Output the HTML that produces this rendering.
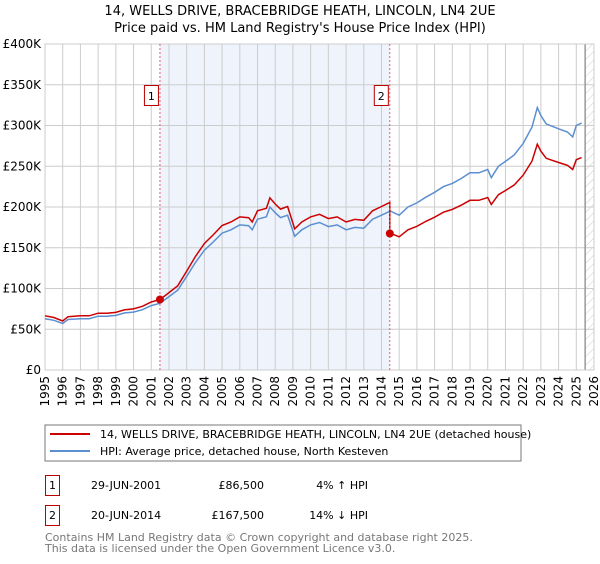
<!DOCTYPE html>
<html><head><meta charset="utf-8"><style>
body{margin:0;background:#fff;font-family:"DejaVu Sans","Liberation Sans",sans-serif;}
svg text{font-family:"DejaVu Sans","Liberation Sans",sans-serif;}
</style></head><body>
<svg id="c" width="600" height="560" xmlns="http://www.w3.org/2000/svg">
<defs><pattern id="hatch" width="6" height="6" patternUnits="userSpaceOnUse" patternTransform="rotate(45)"><line x1="0" y1="0" x2="0" y2="6" stroke="#ccc" stroke-width="1"/></pattern></defs>
<text x="300" y="15" text-anchor="middle" font-size="13">14, WELLS DRIVE, BRACEBRIDGE HEATH, LINCOLN, LN4 2UE</text>
<text x="300" y="32" text-anchor="middle" font-size="13">Price paid vs. HM Land Registry's House Price Index (HPI)</text>
<g id="plot"></g>
<rect x="45" y="425" width="476" height="36" fill="#fff" stroke="#777"/>
<line x1="50" y1="434" x2="90" y2="434" stroke="#cc0000" stroke-width="2"/>
<text x="100" y="438" font-size="11">14, WELLS DRIVE, BRACEBRIDGE HEATH, LINCOLN, LN4 2UE (detached house)</text>
<line x1="50" y1="451" x2="90" y2="451" stroke="#5b8fd0" stroke-width="2"/>
<text x="100" y="455" font-size="11">HPI: Average price, detached house, North Kesteven</text>
<g>
<rect x="45.5" y="475.5" width="14" height="20" fill="#fff" stroke="#b00"/><text x="52.5" y="489" font-size="11" text-anchor="middle">1</text>
<text x="91" y="489" font-size="11">29-JUN-2001</text><text x="264" y="489" font-size="11" text-anchor="end">£86,500</text><text x="368" y="489" font-size="11" text-anchor="end">4% ↑ HPI</text></g>
<g>
<rect x="45.5" y="505.5" width="14" height="20" fill="#fff" stroke="#b00"/><text x="52.5" y="519" font-size="11" text-anchor="middle">2</text>
<text x="91" y="519" font-size="11">20-JUN-2014</text><text x="264" y="519" font-size="11" text-anchor="end">£167,500</text><text x="368" y="519" font-size="11" text-anchor="end">14% ↓ HPI</text></g>
<text x="45" y="541" font-size="11" fill="#777">Contains HM Land Registry data © Crown copyright and database right 2025.</text>
<text x="45" y="552" font-size="11" fill="#777">This data is licensed under the Open Government Licence v3.0.</text>
</svg>
<script>
const hpiYears=[1995,1995.5,1996,1996.3,1997,1997.5,1998,1998.5,1999,1999.5,2000,2000.5,2001,2001.5,2002,2002.5,2003,2003.5,2004,2004.5,2005,2005.5,2006,2006.5,2006.7,2007,2007.5,2007.7,2008,2008.3,2008.7,2009.1,2009.5,2010,2010.5,2011,2011.5,2012,2012.5,2013,2013.5,2014,2014.5,2015,2015.5,2016,2016.5,2017,2017.5,2018,2018.5,2019,2019.5,2020,2020.2,2020.6,2021,2021.5,2022,2022.5,2022.8,2023,2023.3,2024,2024.5,2024.8,2025,2025.3];
const hpiValues=[63,61,57,62,63,63,66,66,67,70,71,74,79,82,90,98,115,132,147,157,168,172,178,177,172,185,188,200,193,187,190,164,172,178,181,176,178,172,175,174,185,190,195,190,200,205,212,218,225,229,235,242,242,246,236,250,256,264,278,298,322,312,302,296,292,286,300,303];
const saleYears=[2001.49,2014.47];
const salePrices=[86.5,167.5];
const yTicks=[0,50,100,150,200,250,300,350,400];
const yTickLabels=["£0","£50K","£100K","£150K","£200K","£250K","£300K","£350K","£400K"];
const xYears=[1995,1996,1997,1998,1999,2000,2001,2002,2003,2004,2005,2006,2007,2008,2009,2010,2011,2012,2013,2014,2015,2016,2017,2018,2019,2020,2021,2022,2023,2024,2025,2026];
const X0=45,X1=594,Y0=370,Y1=44;
const xs=y=>X0+(y-1995)/31*(X1-X0);
const ys=v=>Y0-v/400*(Y0-Y1);
const NS="http://www.w3.org/2000/svg";
const g=document.getElementById('plot');
function mk(t,a){const e=document.createElementNS(NS,t);for(const k in a)e.setAttribute(k,a[k]);g.appendChild(e);return e;}
let e;
e=mk('rect',{x:xs(saleYears[0]),y:Y1,width:xs(saleYears[1])-xs(saleYears[0]),height:Y0-Y1,fill:'#eef3fc'});


e=mk('rect',{x:xs(2025.5),y:Y1,width:X1-xs(2025.5),height:Y0-Y1,fill:'url(#hatch)'});


yTicks.forEach((v,i)=>{
 e=mk('line',{x1:X0,x2:X1,y1:ys(v),y2:ys(v),stroke:'#ccc'});
 
 
 e=mk('text',{x:X0-4,y:ys(v)+4,'text-anchor':'end','font-size':'12'});e.textContent=yTickLabels[i];
 
 
});
xYears.forEach(y=>{
 e=mk('line',{x1:xs(y),x2:xs(y),y1:Y1,y2:Y0,stroke:'#ccc'});
 
 
 e=mk('text',{x:0,y:0,'font-size':'12','text-anchor':'end',transform:`translate(${xs(y)+4},${Y0+6}) rotate(-90)`});e.textContent=y;
 
 
});
e=mk('line',{x1:xs(2025.5),x2:xs(2025.5),y1:Y1,y2:Y0,stroke:'#999','stroke-width':1.5});


e=mk('rect',{x:X0,y:Y1,width:X1-X0,height:Y0-Y1,fill:'none',stroke:'#ccc'});


function hpiAt(t){for(let i=1;i<hpiYears.length;i++){if(t<=hpiYears[i]){const f=(t-hpiYears[i-1])/(hpiYears[i]-hpiYears[i-1]);return hpiValues[i-1]+f*(hpiValues[i]-hpiValues[i-1]);}}return hpiValues[hpiValues.length-1];}
const f1=salePrices[0]/hpiAt(saleYears[0]),f2=salePrices[1]/hpiAt(saleYears[1]);
let hp='',rp='';
hpiYears.forEach((y,i)=>{hp+=(i?'L':'M')+xs(y).toFixed(1)+','+ys(hpiValues[i]).toFixed(1);});
let first=true;
hpiYears.forEach((y,i)=>{if(y<saleYears[1]){rp+=(first?'M':'L')+xs(y).toFixed(1)+','+ys(hpiValues[i]*f1).toFixed(1);first=false;}});
rp+='L'+xs(saleYears[1]).toFixed(1)+','+ys(hpiAt(saleYears[1])*f1).toFixed(1);
rp+='L'+xs(saleYears[1]).toFixed(1)+','+ys(salePrices[1]).toFixed(1);
hpiYears.forEach((y,i)=>{if(y>saleYears[1])rp+='L'+xs(y).toFixed(1)+','+ys(hpiValues[i]*f2).toFixed(1);});
e=mk('path',{d:hp,fill:'none',stroke:'#5b8fd0','stroke-width':1.5});


e=mk('path',{d:rp,fill:'none',stroke:'#cc0000','stroke-width':1.5});


saleYears.forEach((y,i)=>{
 e=mk('line',{x1:xs(y),x2:xs(y),y1:Y1,y2:Y0,stroke:'#e06070','stroke-dasharray':'2,2'});
 
 
 e=mk('circle',{cx:xs(y),cy:ys(salePrices[i]),r:4,fill:'#cc0000'});
 
 
 e=mk('rect',{x:xs(y)-15.5,y:85.5,width:14,height:20,fill:'#fff',stroke:'#b00'});
 
 
 e=mk('text',{x:xs(y)-8.5,y:100,'text-anchor':'middle','font-size':'11'});e.textContent=String(i+1);
 
 
});
</script>
</body></html>
